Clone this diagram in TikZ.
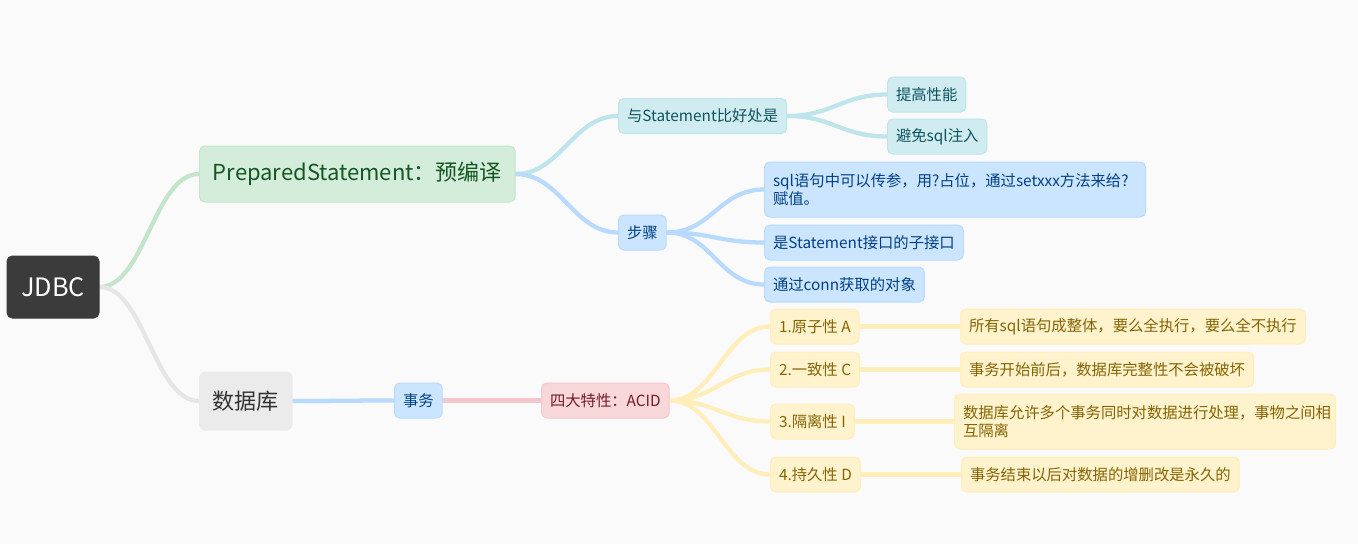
\documentclass[tikz,border=0pt]{standalone}
\usepackage{fontspec}
\setmainfont{Noto Sans CJK SC}
\definecolor{bgpaper}{HTML}{FAFAFA}
\definecolor{rootfill}{HTML}{3B3B3B}
\definecolor{goodfill}{HTML}{D4EDDA}\definecolor{goodline}{HTML}{C3E6CB}\definecolor{goodtext}{HTML}{155724}
\definecolor{grayfill}{HTML}{EBEBEB}\definecolor{grayline}{HTML}{E6E6E6}\definecolor{graytext}{HTML}{333333}
\definecolor{infofill}{HTML}{D1ECF1}\definecolor{infoline}{HTML}{BEE5EB}\definecolor{infotext}{HTML}{0C5460}
\definecolor{primfill}{HTML}{CCE5FF}\definecolor{primline}{HTML}{B8DAFF}\definecolor{primtext}{HTML}{004085}
\definecolor{dangfill}{HTML}{F8D7DA}\definecolor{dangline}{HTML}{F5C6CB}\definecolor{dangtext}{HTML}{721C24}
\definecolor{warnfill}{HTML}{FFF3CD}\definecolor{warnline}{HTML}{FFEEBA}\definecolor{warntext}{HTML}{856404}
\pgfdeclarelayer{bg}
\pgfsetlayers{bg,main}

\begin{document}
\begin{tikzpicture}[x=0.75pt, y=-0.75pt, every node/.style={font=\fontsize{11.5}{14}\selectfont},
	box/.style={draw, line width=0.75pt, rounded corners=4pt, inner xsep=6.4pt, inner ysep=3pt, minimum height=26.25pt, anchor=west, align=left},
	good/.style={box, fill=goodfill, draw=goodline, text=goodtext},
	gray/.style={box, fill=grayfill, draw=grayfill, text=graytext},
	info/.style={box, fill=infofill, draw=infoline, text=infotext},
	prim/.style={box, fill=primfill, draw=primline, text=primtext},
	dang/.style={box, fill=dangfill, draw=dangline, text=dangtext},
	warn/.style={box, fill=warnfill, draw=warnline, text=warntext},
	big/.style={font=\fontsize{16.5}{20}\selectfont, minimum height=42pt, inner xsep=10pt},
	link/.style={line width=3.2pt, line cap=round}]
	\useasboundingbox (0,0) rectangle (1358,544);
	\begin{pgfonlayer}{bg}
		\fill[bgpaper] (0,0) rectangle (1358,544);
	\end{pgfonlayer}
	% root and main branches
	\node[box, fill=rootfill, draw=rootfill, text=white, anchor=center, minimum width=69pt, minimum height=46.5pt, font=\fontsize{19}{22}\selectfont] (jdbc) at (53,287) {JDBC};
	\node[good, big] (ps) at (199,174) {PreparedStatement：预编译};
	\node[gray, big, minimum height=43.5pt] (db) at (199,401) {数据库};
	% PreparedStatement
	\node[info] (adv) at (618,116) {与Statement比好处是};
	\node[info] (perf) at (887,94.5) {提高性能};
	\node[info] (inj) at (887,136.5) {避免sql注入};
	\node[prim] (steps) at (618,232.5) {步骤};
	\node[prim, text width=273pt, minimum height=41.25pt] (s1) at (764,189.5) {sql语句中可以传参，用?占位，通过setxxx方法来给?\\赋值。};
	\node[prim] (s2) at (764,242.5) {是Statement接口的子接口};
	\node[prim] (s3) at (764,284.5) {通过conn获取的对象};
	% transactions
	\node[prim] (tx) at (394,400.5) {事务};
	\node[dang] (acid) at (541,400.5) {四大特性：ACID};
	\node[warn] (a1) at (770,326.5) {1.原子性 A};
	\node[warn] (a2) at (770,369.5) {2.一致性 C};
	\node[warn] (a3) at (770,421.5) {3.隔离性 I};
	\node[warn] (a4) at (770,474.5) {4.持久性 D};
	\node[warn] (d1) at (960,326.5) {所有sql语句成整体，要么全执行，要么全不执行};
	\node[warn] (d2) at (960,369.5) {事务开始前后，数据库完整性不会被破坏};
	\node[warn, text width=273pt, minimum height=41.25pt] (d3) at (954,421.5) {数据库允许多个事务同时对数据进行处理，事物之间相\\互隔离};
	\node[warn] (d4) at (961,474.5) {事务结束以后对数据的增删改是永久的};
	\begin{pgfonlayer}{bg}
		\foreach \a/\b/\c in {jdbc/ps/goodline, jdbc/db/grayline, ps/adv/infoline, ps/steps/primline, adv/perf/infoline, adv/inj/infoline, steps/s1/primline, steps/s2/primline, steps/s3/primline, db/tx/primline, tx/acid/dangline, acid/a1/warnline, acid/a2/warnline, acid/a3/warnline, acid/a4/warnline, a1/d1/warnline, a2/d2/warnline, a3/d3/warnline, a4/d4/warnline} {\draw[link, \c] (\a.east) .. controls +(45,0) and +(-45,0) .. (\b.west);}
	\end{pgfonlayer}
\end{tikzpicture}
\end{document}
